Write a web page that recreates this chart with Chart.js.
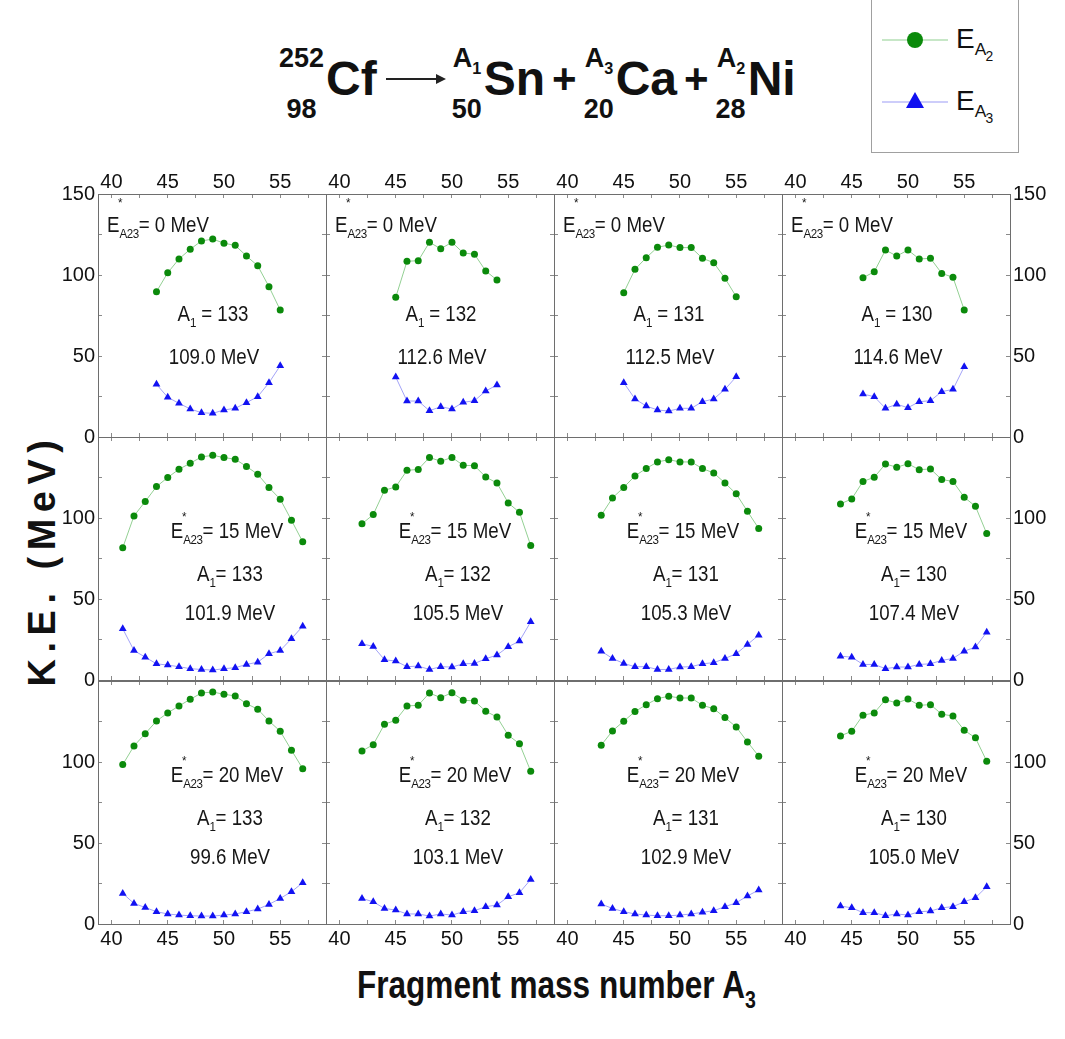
<!DOCTYPE html>
<html>
<head>
<meta charset="utf-8">
<script src="https://cdn.jsdelivr.net/npm/chart.js@4.4.0/dist/chart.umd.min.js"></script>
<style>
  html, body { margin: 0; padding: 0; background: #fff; }
  #stage { position: relative; width: 1065px; height: 1039px; overflow: hidden; background: #fff;
           font-family: "Liberation Sans", Arial, sans-serif; color: #111; }
  canvas.panel { position: absolute; }
  .note { position: absolute; white-space: nowrap; font-size: 22px; line-height: 22px; color: #161616;
          transform: scaleX(0.85); transform-origin: 0 50%; }
  .note.c { transform: translateX(-50%) scaleX(0.85); transform-origin: 50% 50%; }
  .es { position: relative; display: inline-block; }
  .es .star { position: absolute; left: 0.95em; top: -1.05em; font-size: 0.62em; }
  .es .star.hi { top: -1.6em; }
  .sub { font-size: 0.62em; position: relative; top: 0.42em; letter-spacing: -0.04em; }
  .title { position: absolute; left: 279px; top: 40px; font-weight: bold; font-size: 48px; line-height: 50px;
           white-space: nowrap; display: flex; align-items: center; }
  .nuc { display: inline-flex; flex-direction: column; align-items: center; font-size: 27px; line-height: 1;
         margin-right: 2px; position: relative; top: 5px; }
  .nuc .m { margin-bottom: 24px; }
  .arrow { display: inline-block; width: 58px; height: 2px; background: #222; position: relative; margin: 0 8px 0 9px; }
  .arrow::after { content: ""; position: absolute; right: -2px; top: -4px; border-left: 10px solid #222;
                  border-top: 5px solid transparent; border-bottom: 5px solid transparent; }
  .plus { margin: 0 7px; font-size: 42px; }
  .legend { position: absolute; left: 871px; top: -1px; width: 146px; height: 152px; border: 1px solid #a0a0a0; background: #fff; }
  .legend .row { position: absolute; left: 10px; }
  .legend .lab { position: absolute; left: 84px; font-size: 28px; line-height: 28px; }
  .ytitle { position: absolute; left: 42px; top: 560px; transform: translate(-50%, -50%) rotate(-90deg);
            font-weight: bold; font-size: 38px; letter-spacing: 6.5px; white-space: nowrap; }
  .xtitle { position: absolute; left: 556px; top: 985px; transform: translate(-50%, -50%) scaleX(0.83);
            font-weight: bold; font-size: 38px; white-space: nowrap; }
</style>
</head>
<body>
<div id="stage">
  <div class="title">
    <span class="nuc"><span class="m">252</span><span>98</span></span>Cf
    <span class="arrow"></span>
    <span class="nuc"><span class="m">A<span class="sub" style="font-size:0.6em">1</span></span><span>50</span></span>Sn
    <span class="plus">+</span>
    <span class="nuc"><span class="m">A<span class="sub" style="font-size:0.6em">3</span></span><span>20</span></span>Ca
    <span class="plus">+</span>
    <span class="nuc"><span class="m">A<span class="sub" style="font-size:0.6em">2</span></span><span>28</span></span>Ni
  </div>
  <div class="legend">
    <svg class="row" style="top:27px" width="66" height="26"><line x1="0" y1="13" x2="66" y2="13" stroke="#8fcf8f" stroke-width="1"/><circle cx="33" cy="13" r="8" fill="#0b8a0b"/></svg>
    <div class="lab" style="top:25px">E<span class="sub">A<span class="sub" style="font-size:0.8em">2</span></span></div>
    <svg class="row" style="top:88px" width="66" height="26"><line x1="0" y1="14" x2="66" y2="14" stroke="#9b9bf5" stroke-width="1"/><polygon points="33,4 42,20 24,20" fill="#1010f0"/></svg>
    <div class="lab" style="top:87px">E<span class="sub">A<span class="sub" style="font-size:0.8em">3</span></span></div>
  </div>
  <div class="ytitle">K.E. (MeV)</div>
  <div class="xtitle">Fragment mass number A<span class="sub">3</span></div>
</div>
<script>
// Fragment mass numbers A3 and kinetic energies (MeV) of the A2 (Ni) and A3 (Ca) fragments
// E*_A23 = 0 MeV
const a3_0MeV_A133 = [44, 45, 46, 47, 48, 49, 50, 51, 52, 53, 54, 55];
const e2_0MeV_A133 = [89.7, 101.4, 109.9, 115.9, 121.0, 122.2, 119.6, 118.3, 111.7, 105.7, 92.8, 78.4];
const e3_0MeV_A133 = [32.5, 24.5, 20.8, 17.3, 15.0, 14.6, 16.7, 17.7, 21.2, 24.9, 33.5, 44.0];

const a3_0MeV_A132 = [45, 46, 47, 48, 49, 50, 51, 52, 53, 54];
const e2_0MeV_A132 = [86.2, 108.5, 108.8, 120.2, 116.2, 120.2, 113.6, 112.8, 102.5, 96.9];
const e3_0MeV_A132 = [37.0, 22.2, 22.2, 16.2, 18.7, 17.3, 21.4, 22.4, 28.4, 32.1];

const a3_0MeV_A131 = [45, 46, 47, 48, 49, 50, 51, 52, 53, 54, 55];
const e2_0MeV_A131 = [89.1, 103.5, 110.7, 117.1, 118.5, 116.9, 116.9, 110.3, 107.6, 98.0, 86.6];
const e3_0MeV_A131 = [33.5, 23.5, 19.1, 16.7, 16.0, 17.7, 17.7, 21.8, 23.5, 29.4, 37.2];

const a3_0MeV_A130 = [46, 47, 48, 49, 50, 51, 52, 53, 54, 55];
const e2_0MeV_A130 = [98.3, 102.0, 115.4, 111.7, 115.4, 109.9, 110.3, 101.0, 98.6, 78.4];
const e3_0MeV_A130 = [26.5, 24.9, 17.7, 20.2, 18.1, 21.8, 22.4, 28.0, 29.4, 43.4];

// E*_A23 = 15 MeV
const a3_15MeV_A133 = [41, 42, 43, 44, 45, 46, 47, 48, 49, 50, 51, 52, 53, 54, 55, 56, 57];
const e2_15MeV_A133 = [81.6, 101.3, 110.2, 119.4, 125.0, 130.1, 133.8, 137.7, 138.7, 137.3, 136.3, 131.8, 127.0, 118.8, 111.6, 98.6, 85.3];
const e3_15MeV_A133 = [31.6, 18.2, 14.1, 10.0, 9.2, 8.2, 7.0, 6.5, 6.1, 7.0, 7.6, 9.6, 11.0, 16.2, 18.2, 25.5, 33.2];

const a3_15MeV_A132 = [42, 43, 44, 45, 46, 47, 48, 49, 50, 51, 52, 53, 54, 55, 56, 57];
const e2_15MeV_A132 = [96.4, 102.1, 117.1, 119.2, 129.4, 130.0, 137.4, 135.0, 137.4, 132.5, 132.3, 125.3, 121.6, 109.3, 103.5, 83.0];
const e3_15MeV_A132 = [22.4, 20.7, 12.5, 11.7, 8.2, 8.6, 6.5, 8.2, 8.0, 10.0, 10.2, 13.1, 15.4, 20.5, 24.0, 35.9];

const a3_15MeV_A131 = [43, 44, 45, 46, 47, 48, 49, 50, 51, 52, 53, 54, 55, 56, 57];
const e2_15MeV_A131 = [101.7, 112.4, 118.9, 126.0, 130.6, 134.6, 136.0, 134.6, 134.6, 130.5, 127.8, 121.6, 114.9, 104.1, 93.5];
const e3_15MeV_A131 = [17.8, 13.3, 10.2, 8.2, 8.2, 6.5, 6.5, 8.0, 8.2, 10.0, 10.7, 13.3, 16.2, 21.9, 27.7];

const a3_15MeV_A130 = [44, 45, 46, 47, 48, 49, 50, 51, 52, 53, 54, 55, 56, 57];
const e2_15MeV_A130 = [108.7, 111.8, 122.6, 125.1, 133.4, 131.3, 133.5, 129.8, 130.3, 123.7, 122.6, 112.8, 107.2, 90.4];
const e3_15MeV_A130 = [14.7, 14.1, 9.6, 9.6, 7.0, 8.0, 8.0, 9.6, 10.0, 12.1, 13.3, 17.8, 20.3, 29.5];

// E*_A23 = 20 MeV
const a3_20MeV_A133 = [41, 42, 43, 44, 45, 46, 47, 48, 49, 50, 51, 52, 53, 54, 55, 56, 57];
const e2_20MeV_A133 = [98.4, 109.9, 117.5, 125.3, 130.3, 134.6, 138.7, 142.6, 143.2, 141.8, 140.8, 136.0, 132.6, 125.3, 119.0, 107.3, 95.9];
const e3_20MeV_A133 = [18.9, 12.7, 10.2, 7.6, 6.2, 5.5, 5.1, 4.9, 4.9, 5.5, 6.2, 7.6, 9.2, 12.1, 15.8, 19.9, 25.5];

const a3_20MeV_A132 = [42, 43, 44, 45, 46, 47, 48, 49, 50, 51, 52, 53, 54, 55, 56, 57];
const e2_20MeV_A132 = [106.8, 110.7, 123.3, 125.8, 134.6, 135.0, 142.6, 139.7, 142.8, 138.1, 137.7, 131.3, 127.8, 116.5, 111.3, 94.3];
const e3_20MeV_A132 = [15.8, 13.7, 9.6, 8.6, 6.2, 6.2, 4.9, 6.2, 5.5, 7.6, 8.2, 10.7, 11.7, 16.8, 19.3, 27.5];

const a3_20MeV_A131 = [43, 44, 45, 46, 47, 48, 49, 50, 51, 52, 53, 54, 55, 56, 57];
const e2_20MeV_A131 = [110.4, 119.2, 125.2, 131.1, 135.4, 139.1, 140.6, 139.5, 139.5, 135.0, 132.9, 127.4, 121.6, 112.4, 103.6];
const e3_20MeV_A131 = [12.3, 9.6, 7.6, 6.2, 5.5, 5.1, 5.1, 5.5, 6.2, 7.2, 8.2, 10.7, 13.1, 17.3, 21.0];

const a3_20MeV_A130 = [44, 45, 46, 47, 48, 49, 50, 51, 52, 53, 54, 55, 56, 57];
const e2_20MeV_A130 = [116.1, 119.0, 128.9, 130.3, 138.5, 136.4, 138.9, 135.0, 135.4, 129.5, 128.4, 119.6, 114.9, 100.5];
const e3_20MeV_A130 = [11.1, 10.0, 7.0, 7.0, 5.1, 6.2, 5.5, 7.6, 8.0, 10.0, 10.7, 13.7, 16.2, 23.0];

// Panel labels
const excitationEnergies = ["0", "15", "20"];          // E*_A23 per row (MeV)
const heavyMasses = ["133", "132", "131", "130"];      // A1 per column
const qValueLabels = [
  ["109.0", "112.6", "112.5", "114.6"],
  ["101.9", "105.5", "105.3", "107.4"],
  ["99.6", "103.1", "102.9", "105.0"]
];

// Axis ticks
const xTickMarks = [40, 42.5, 45, 47.5, 50, 52.5, 55, 57.5];
const xTickLabels = [40, 45, 50, 55];
const yTickMarks = [0, 25, 50, 75, 100, 125, 150];
const yTickLabels = [0, 50, 100, 150];

const panelSeries = [
  [[a3_0MeV_A133, e2_0MeV_A133, e3_0MeV_A133], [a3_0MeV_A132, e2_0MeV_A132, e3_0MeV_A132],
   [a3_0MeV_A131, e2_0MeV_A131, e3_0MeV_A131], [a3_0MeV_A130, e2_0MeV_A130, e3_0MeV_A130]],
  [[a3_15MeV_A133, e2_15MeV_A133, e3_15MeV_A133], [a3_15MeV_A132, e2_15MeV_A132, e3_15MeV_A132],
   [a3_15MeV_A131, e2_15MeV_A131, e3_15MeV_A131], [a3_15MeV_A130, e2_15MeV_A130, e3_15MeV_A130]],
  [[a3_20MeV_A133, e2_20MeV_A133, e3_20MeV_A133], [a3_20MeV_A132, e2_20MeV_A132, e3_20MeV_A132],
   [a3_20MeV_A131, e2_20MeV_A131, e3_20MeV_A131], [a3_20MeV_A130, e2_20MeV_A130, e3_20MeV_A130]]
];

// Grid geometry of the 4 x 3 panel layout
const COL_LEFT = [98, 326, 554, 782];
const COL_W = 228;
const ROW_TOP = [194, 437, 681];
const ROW_H = 243;
const MARGIN = 46;
const X_MIN = 38.8, X_MAX = 59.07;

// Text block placement inside each panel (offsets from the panel's left edge / centre and top)
const NOTE_LAYOUT = {
  top:   { starX: 9,  starY: 31, aX: 1,  aY: 120, qX: 2,  qY: 163 },
  lower: { starX: 15, starY: 94, aX: 18, aY: 137, qX: 18, qY: 176 }
};

const FRAME = '#6e6e6e';
const TICK_FONT = { family: '"Liberation Sans", Arial, sans-serif', size: 20 };

const stage = document.getElementById('stage');

function fixedSize(s) {
  if (s.isHorizontal()) s.height = MARGIN; else s.width = MARGIN;
}

function axis(kind, position, showLabels, row) {
  const isX = kind === 'x';
  return {
    type: 'linear',
    axis: kind,
    position,
    min: isX ? X_MIN : 0,
    max: isX ? X_MAX : 150,
    afterBuildTicks: s => { s.ticks = (isX ? xTickMarks : yTickMarks).map(v => ({ value: v })); },
    afterFit: fixedSize,
    ticks: {
      display: showLabels,
      autoSkip: false,
      maxRotation: 0,
      color: '#111',
      font: TICK_FONT,
      padding: position === 'top' ? 4 : 7,
      callback: v => {
        if (isX) return xTickLabels.includes(v) ? String(v) : '';
        if (!yTickLabels.includes(v)) return '';
        if (v === 150 && row > 0) return '';
        return String(v);
      }
    },
    grid: { display: true, drawOnChartArea: false, drawTicks: true, tickLength: -4, color: '#8a8a8a', lineWidth: 1 },
    border: { display: true, color: FRAME, width: 1 }
  };
}

function makePanel(r, c) {
  const [a3, e2, e3] = panelSeries[r][c];
  const W = COL_W + 2 * MARGIN, H = ROW_H + 2 * MARGIN;
  const cv = document.createElement('canvas');
  cv.className = 'panel';
  cv.width = W; cv.height = H;
  cv.style.left = (COL_LEFT[c] - MARGIN) + 'px';
  cv.style.top = (ROW_TOP[r] - MARGIN) + 'px';
  cv.style.width = W + 'px';
  cv.style.height = H + 'px';
  stage.appendChild(cv);

  new Chart(cv, {
    type: 'line',
    data: {
      datasets: [
        {
          label: 'E_A2',
          data: a3.map((x, i) => ({ x, y: e2[i] })),
          borderColor: '#93d093', borderWidth: 1, tension: 0,
          pointStyle: 'circle', pointRadius: 3.5,
          pointBackgroundColor: '#0b8a0b', pointBorderColor: '#0b8a0b', pointBorderWidth: 0
        },
        {
          label: 'E_A3',
          data: a3.map((x, i) => ({ x, y: e3[i] })),
          borderColor: '#a3a3f7', borderWidth: 1, tension: 0,
          pointStyle: 'triangle', pointRadius: 4.5,
          pointBackgroundColor: '#1212f2', pointBorderColor: '#1212f2', pointBorderWidth: 0
        }
      ]
    },
    options: {
      responsive: false,
      animation: false,
      devicePixelRatio: 1,
      layout: { padding: 0 },
      plugins: { legend: { display: false }, tooltip: { enabled: false } },
      scales: {
        x: axis('x', 'bottom', r === 2, r),
        x2: axis('x', 'top', r === 0, r),
        y: axis('y', 'left', c === 0, r),
        y2: axis('y', 'right', c === 3, r)
      }
    }
  });
}

function starLabel(mev, high) {
  return '<span class="es">E<span class="star' + (high ? ' hi' : '') + '">*</span></span>' +
         '<span class="sub">A23</span>= ' + mev + ' MeV';
}

function addNote(html, x, y, centered) {
  const d = document.createElement('div');
  d.className = 'note' + (centered ? ' c' : '');
  d.style.left = x + 'px';
  d.style.top = (y - 11) + 'px';
  d.innerHTML = html;
  stage.appendChild(d);
}

for (let r = 0; r < 3; r++) {
  for (let c = 0; c < 4; c++) {
    makePanel(r, c);
    const left = COL_LEFT[c], mid = COL_LEFT[c] + COL_W / 2, top = ROW_TOP[r];
    if (r === 0) {
      const L = NOTE_LAYOUT.top;
      addNote(starLabel(excitationEnergies[r], true), left + L.starX, top + L.starY, false);
      addNote('A<span class="sub">1</span> = ' + heavyMasses[c], mid + L.aX, top + L.aY, true);
      addNote(qValueLabels[r][c] + ' MeV', mid + L.qX, top + L.qY, true);
    } else {
      const L = NOTE_LAYOUT.lower;
      addNote(starLabel(excitationEnergies[r], false), mid + L.starX, top + L.starY, true);
      addNote('A<span class="sub">1</span>= ' + heavyMasses[c], mid + L.aX, top + L.aY, true);
      addNote(qValueLabels[r][c] + ' MeV', mid + L.qX, top + L.qY, true);
    }
  }
}
</script>
</body>
</html>
